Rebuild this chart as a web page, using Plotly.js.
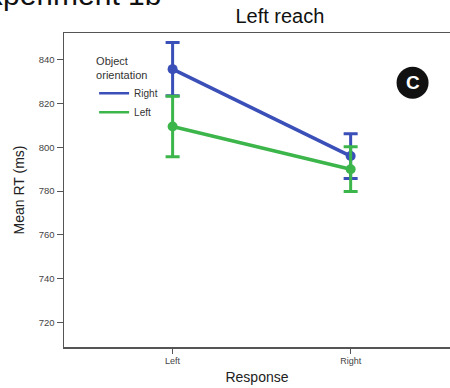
<!DOCTYPE html>
<html>
<head>
<meta charset="utf-8">
<script src="https://cdn.plot.ly/plotly-3.0.1.min.js"></script>
<style>html,body{margin:0;padding:0;background:#fff;}#chart{width:450px;height:388px;}</style>
</head>
<body>
<div id="chart"></div>
<script>
// Data
const responses = ['Left', 'Right'];
const seriesNames = ['Right', 'Left']; // object orientation
const rightMeans = [835.7, 796.0];
const rightErr = [12.2, 10.2];
const leftMeans = [809.5, 790.0];
const leftErr = [13.8, 10.2];
const yTicks = [720, 740, 760, 780, 800, 820, 840];

const blue = '#3a4fb8';
const green = '#3cb64b';
const FONT = 'Liberation Sans, Arial, Helvetica, sans-serif';

function mainTrace(y, err, color) {
  return {
    x: responses, y: y, type: 'scatter', mode: 'lines+markers',
    line: {color: color, width: 3.5},
    marker: {color: color, size: 10},
    error_y: {type: 'data', array: err, visible: true, color: color, thickness: 3, width: 7},
    showlegend: false, hoverinfo: 'skip'
  };
}
function legendTrace(name, color) {
  return {x: [null], y: [null], type: 'scatter', mode: 'lines', name: name,
          line: {color: color, width: 2.5}, showlegend: true};
}

const data = [
  mainTrace(rightMeans, rightErr, blue),
  mainTrace(leftMeans, leftErr, green),
  legendTrace(seriesNames[0], blue),
  legendTrace(seriesNames[1], green)
];

const layout = {
  width: 450, height: 388,
  margin: {l: 64, r: 0, t: 33, b: 41, pad: 0},
  paper_bgcolor: '#fff', plot_bgcolor: '#fff',
  font: {family: FONT, color: '#333'},
  title: {text: 'Left reach', font: {family: FONT, size: 20, color: '#111'},
          xref: 'container', yref: 'container', x: 0.622, xanchor: 'center', y: 0.958, yanchor: 'middle'},
  xaxis: {
    type: 'category', range: [-0.61, 1.558],
    showline: true, linecolor: '#555', linewidth: 1.5, mirror: true,
    ticks: 'outside', ticklen: 5, tickwidth: 1, tickcolor: '#555',
    tickfont: {size: 9, color: '#444', family: FONT},
    showgrid: false, zeroline: false,
    title: {text: 'Response', font: {size: 14, color: '#222', family: FONT}, standoff: 7}
  },
  yaxis: {
    range: [708.8, 852.2], tickvals: yTicks,
    showline: true, linecolor: '#555', linewidth: 1.5, mirror: false,
    ticks: 'outside', ticklen: 6, tickwidth: 1, tickcolor: '#555',
    tickfont: {size: 9.5, color: '#444', family: FONT},
    showgrid: false, zeroline: false,
    title: {text: 'Mean RT (ms)', font: {size: 14, color: '#222', family: FONT}, standoff: 11}
  },
  legend: {
    x: 0.078, xanchor: 'left', y: 0.945, yanchor: 'top',
    bgcolor: 'rgba(0,0,0,0)', borderwidth: 0,
    font: {size: 10, color: '#333', family: FONT},
    title: {text: 'Object<br>orientation', font: {size: 11, color: '#333', family: FONT}},
    tracegroupgap: 0, itemwidth: 30
  },
  shapes: [{
    type: 'circle', xref: 'paper', yref: 'paper', xsizemode: 'pixel', ysizemode: 'pixel',
    xanchor: 0.903, yanchor: 0.8416, x0: -16, x1: 16, y0: -16, y1: 16,
    fillcolor: '#111', line: {width: 0}
  }],
  annotations: [
    {text: '<b>C</b>', xref: 'paper', yref: 'paper', x: 0.903, y: 0.8416, xanchor: 'center', yanchor: 'middle',
     showarrow: false, font: {size: 19, color: '#fff', family: FONT}},
    {text: 'Experiment 1b', xref: 'paper', yref: 'paper', x: 0.2565, y: 1.063, xanchor: 'right', yanchor: 'bottom',
     showarrow: false, font: {size: 30, color: '#111', family: FONT}}
  ]
};

Plotly.newPlot('chart', data, layout, {staticPlot: true, displayModeBar: false});
</script>
</body>
</html>
